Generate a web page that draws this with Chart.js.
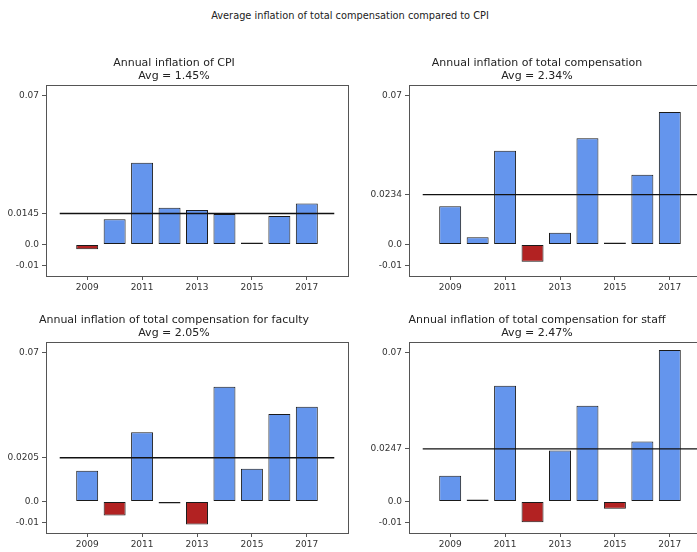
<!DOCTYPE html>
<html>
<head>
<meta charset="utf-8">
<script src="https://cdn.jsdelivr.net/npm/chart.js@4"></script>
<style>
  html, body { margin: 0; padding: 0; background: #fff; width: 697px; height: 552px; overflow: hidden; }
  #suptitle { position: absolute; left: 0; top: 10px; width: 700px; text-align: center;
              font: 9.8px "DejaVu Sans", sans-serif; color: #222; white-space: nowrap; }
  canvas { position: absolute; }
</style>
</head>
<body>
<div id="suptitle">Average inflation of total compensation compared to CPI</div>
<canvas id="cpi" width="352" height="242" style="left:0px;top:56px"></canvas>
<canvas id="total" width="352" height="242" style="left:363px;top:56px"></canvas>
<canvas id="faculty" width="352" height="242" style="left:0px;top:313px"></canvas>
<canvas id="staff" width="352" height="242" style="left:363px;top:313px"></canvas>
<script>
// Years on the x axis and the labelled ticks
const years = [2009, 2010, 2011, 2012, 2013, 2014, 2015, 2016, 2017];
const yearTicks = [2009, 2011, 2013, 2015, 2017];

// Year-over-year inflation rates
const cpiInflation     = [-0.0022, 0.0118, 0.0384, 0.0172, 0.0162, 0.0143, 0.0001, 0.0134, 0.0192];
const totalInflation   = [0.0179, 0.0034, 0.0440, -0.0081, 0.0055, 0.0499, 0.0006, 0.0327, 0.0622];
const facultyInflation = [0.0144, -0.0066, 0.0325, -0.0009, -0.0108, 0.0539, 0.0153, 0.0411, 0.0444];
const staffInflation   = [0.0121, 0.0003, 0.0543, -0.0097, 0.0239, 0.0449, -0.0034, 0.0282, 0.0711];

// Averages shown as the horizontal reference line and in each title
const avgCpi = 0.0145;
const avgTotal = 0.0234;
const avgFaculty = 0.0205;
const avgStaff = 0.0247;

// Fixed y ticks (the average is added per panel)
const yTickBase = [-0.01, 0, 0.07];

const FONT = '"DejaVu Sans", sans-serif';
const BLUE = '#6495ED';
const RED = '#B22222';
const SPINE = '#555';

// Draws the full rectangular frame around the plotting area
const framePlugin = {
  id: 'frame',
  afterDraw(chart) {
    const a = chart.chartArea;
    const ctx = chart.ctx;
    ctx.save();
    ctx.strokeStyle = SPINE;
    ctx.lineWidth = 1;
    ctx.strokeRect(Math.round(a.left) + 0.5, Math.round(a.top) + 0.5,
                   Math.round(a.right - a.left), Math.round(a.bottom - a.top));
    ctx.restore();
  }
};

function tickLabel(v, avg) {
  if (Math.abs(v - avg) < 1e-9) return String(avg);
  if (v === 0) return '0.0';
  return String(v);
}

function makePanel(id, title, values, avg) {
  const bars = years.map((y, i) => ({ x: y, y: values[i] }));
  new Chart(document.getElementById(id), {
    type: 'bar',
    data: {
      datasets: [
        {
          type: 'line',
          data: [{ x: 2008, y: avg }, { x: 2018, y: avg }],
          borderColor: '#111',
          borderWidth: 1.4,
          pointRadius: 0,
          order: 0
        },
        {
          type: 'bar',
          data: bars,
          backgroundColor: values.map(v => v < 0 ? RED : BLUE),
          borderColor: '#1a1a1a',
          borderWidth: 1,
          borderSkipped: false,
          minBarLength: 2,
          barPercentage: 0.8,
          categoryPercentage: 1.0,
          order: 1
        }
      ]
    },
    options: {
      responsive: false,
      animation: false,
      events: [],
      layout: { padding: { left: 0, right: 4, top: 0, bottom: 0 } },
      plugins: {
        legend: { display: false },
        tooltip: { enabled: false },
        title: {
          display: true,
          text: [title, 'Avg = ' + (avg * 100).toFixed(2) + '%'],
          color: '#222',
          font: { family: FONT, size: 11, weight: 'normal', lineHeight: 1.25 },
          padding: { top: 0, bottom: 1.6 }
        }
      },
      scales: {
        x: {
          type: 'linear',
          min: 2007.5,
          max: 2018.5,
          offset: false,
          grid: { display: true, offset: false, drawOnChartArea: false, drawTicks: true, tickLength: 4, color: SPINE },
          border: { display: true, color: SPINE },
          ticks: {
            font: { family: FONT, size: 9 },
            color: '#333',
            padding: 2,
            maxRotation: 0,
            autoSkip: false,
            callback: v => String(v)
          },
          afterBuildTicks: s => { s.ticks = yearTicks.map(v => ({ value: v })); },
          afterFit: s => { s.height = 22; }
        },
        y: {
          type: 'linear',
          min: -0.0148,
          max: 0.0748,
          grid: { display: true, drawOnChartArea: false, drawTicks: true, tickLength: 4, color: SPINE },
          border: { display: true, color: SPINE },
          ticks: {
            font: { family: FONT, size: 9 },
            color: '#333',
            padding: 3,
            autoSkip: false,
            callback: v => tickLabel(v, avg)
          },
          afterBuildTicks: s => {
            s.ticks = [...yTickBase, avg].sort((a, b) => a - b).map(v => ({ value: v }));
          },
          afterFit: s => { s.width = 46; }
        }
      }
    },
    plugins: [framePlugin]
  });
}

makePanel('cpi', 'Annual inflation of CPI', cpiInflation, avgCpi);
makePanel('total', 'Annual inflation of total compensation', totalInflation, avgTotal);
makePanel('faculty', 'Annual inflation of total compensation for faculty', facultyInflation, avgFaculty);
makePanel('staff', 'Annual inflation of total compensation for staff', staffInflation, avgStaff);
</script>
</body>
</html>
